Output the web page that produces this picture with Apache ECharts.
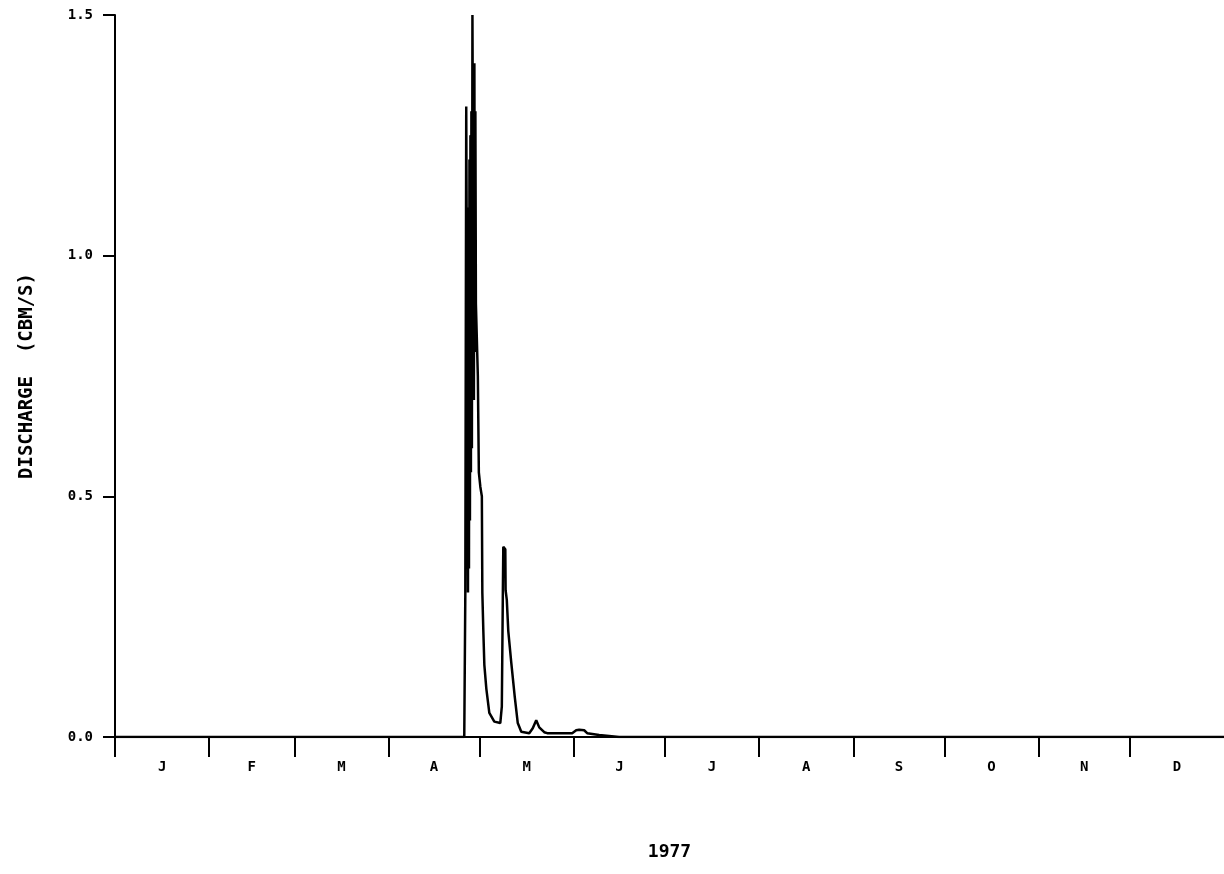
<!DOCTYPE html>
<html>
<head>
<meta charset="utf-8">
<script src="https://cdn.jsdelivr.net/npm/echarts@6/dist/echarts.min.js"></script>
<style>
  html, body { margin: 0; padding: 0; background: #ffffff; }
  #chart { width: 1224px; height: 874px; }
</style>
</head>
<body>
<div id="chart"></div>
<script>
// ---- data ----
const yearLabel = '1977';
const yAxisTitle = 'DISCHARGE  (CBM/S)';
const monthLetters = ['J', 'F', 'M', 'A', 'M', 'J', 'J', 'A', 'S', 'O', 'N', 'D'];
const monthStartDays = [0, 31, 59, 90, 120, 151, 181, 212, 243, 273, 304, 334];
const daysInYear = 365;
const yTickValues = [0.0, 0.5, 1.0, 1.5];

// day of year (fractional) and discharge values
const dayOfYear = [
  0, 114.95, 115.30, 115.60, 116.00, 116.17, 116.33, 116.50, 116.66, 116.82,
  116.98, 117.14, 117.30, 117.46, 117.64, 117.96, 118.12, 118.28, 118.45, 118.61,
  118.78, 119.10, 119.42, 119.75, 120.24, 120.74, 120.90, 121.23, 121.56, 122.22,
  123.20, 124.84, 126.81, 127.31, 127.64, 127.80, 128.46, 128.56, 128.95, 129.44,
  130.43, 131.58, 132.56, 133.71, 136.34, 137.49, 138.64, 139.63, 141.27, 142.26,
  150.47, 151.78, 152.77, 154.41, 155.40, 159.34, 165.91, 365
];
const discharge = [
  0.0, 0.0, 0.3, 1.31, 1.31, 0.3, 1.1, 0.35, 1.2, 0.45,
  1.25, 0.55, 1.3, 0.6, 1.5, 1.5, 0.7, 1.4, 0.8, 1.3,
  0.9, 0.9, 0.75, 0.55, 0.52, 0.5, 0.3, 0.22, 0.15, 0.1,
  0.05, 0.032, 0.029, 0.063, 0.29, 0.395, 0.39, 0.305, 0.285, 0.22,
  0.154, 0.083, 0.029, 0.011, 0.008, 0.018, 0.035, 0.02, 0.01, 0.008,
  0.008, 0.014, 0.015, 0.014, 0.008, 0.004, 0.0, 0.0
];

// ---- build chart ----
const monthMidDays = monthStartDays.map((d, i) => {
  const next = i + 1 < monthStartDays.length ? monthStartDays[i + 1] : daysInYear;
  return (d + next) / 2;
});
const seriesData = dayOfYear.map((d, i) => [d, discharge[i]]);
const FONT = 'DejaVu Sans Mono';

const chart = echarts.init(document.getElementById('chart'), null, { renderer: 'canvas' });
chart.setOption({
  animation: false,
  backgroundColor: '#ffffff',
  grid: { left: 115, top: 15, width: 1111, height: 722, containLabel: false },
  xAxis: {
    type: 'value',
    min: 0,
    max: daysInYear,
    name: yearLabel,
    nameLocation: 'middle',
    nameGap: 106,
    nameTextStyle: { fontFamily: FONT, fontWeight: 'bold', fontSize: 18, color: '#000' },
    axisLine: { show: true, onZero: false, lineStyle: { color: '#000', width: 2 } },
    axisTick: {
      show: true, inside: false, length: 20,
      customValues: monthStartDays,
      lineStyle: { color: '#000', width: 2 }
    },
    axisLabel: {
      show: true,
      customValues: monthMidDays,
      margin: 23,
      fontFamily: FONT, fontWeight: 'bold', fontSize: 14, color: '#000',
      formatter: function (v) {
        const idx = monthMidDays.findIndex(m => Math.abs(m - v) < 0.01);
        return idx >= 0 ? monthLetters[idx] : '';
      }
    },
    splitLine: { show: false }
  },
  yAxis: {
    type: 'value',
    min: 0,
    max: 1.5,
    interval: 0.5,
    name: yAxisTitle,
    nameLocation: 'middle',
    nameGap: 78,
    nameRotate: 90,
    nameTextStyle: { fontFamily: FONT, fontWeight: 'bold', fontSize: 19, color: '#000' },
    axisLine: { show: true, lineStyle: { color: '#000', width: 2 } },
    axisTick: { show: true, inside: false, length: 12, customValues: yTickValues, lineStyle: { color: '#000', width: 2 } },
    axisLabel: {
      show: true, margin: 22,
      fontFamily: FONT, fontWeight: 'bold', fontSize: 14, color: '#000',
      formatter: v => v.toFixed(1)
    },
    splitLine: { show: false }
  },
  series: [{
    type: 'line',
    data: seriesData,
    showSymbol: false,
    symbol: 'none',
    lineStyle: { color: '#000', width: 2.5 },
    clip: true
  }]
});
</script>
</body>
</html>
